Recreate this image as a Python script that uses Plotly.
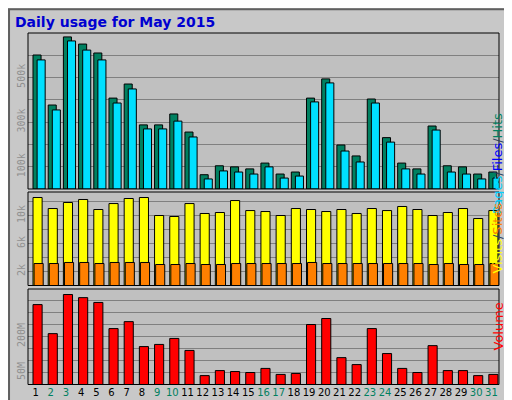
import plotly.graph_objects as go

days = list(range(1, 32))
hits = [600,376,681,649,609,407,470,287,287,336,255,64,104,99,90,116,67,76,407,493,197,148,403,230,116,90,282,104,99,67,76]
files = [578,354,663,622,578,385,448,269,269,304,233,45,81,76,67,99,49,58,390,475,170,121,385,210,90,67,264,76,67,45,49]
visits = [12.57,11.0,11.86,12.29,10.86,11.71,12.43,12.57,10.0,9.86,11.71,10.29,10.43,12.14,10.71,10.57,10.0,11.0,10.86,10.57,10.86,10.29,11.0,10.71,11.29,10.86,10.0,10.43,11.0,9.57,10.71]
sites = [3.14,3.14,3.29,3.29,3.14,3.29,3.29,3.29,3.0,3.0,3.14,3.0,3.0,3.14,3.14,3.14,3.14,3.14,3.29,3.14,3.14,3.14,3.14,3.14,3.14,3.14,3.0,3.14,3.0,3.0,3.14]
volume = [333,212,375,362,342,233,262,158,167,192,142,37,58,54,50,67,42,46,250,275,112,83,233,129,67,50,162,58,58,37,42]
weekend = {2,3,9,10,16,17,23,24,30,31}

fig = go.Figure()
ln = dict(color="black", width=1)
fig.add_bar(x=days, y=[h*1000 for h in hits], offset=-0.17, width=0.53, marker=dict(color="#008060", line=ln), yaxis="y")
fig.add_bar(x=days, y=[f*1000 for f in files], offset=0.1, width=0.53, marker=dict(color="#00E0FF", line=ln), yaxis="y")
fig.add_bar(x=days, y=[v*1000 for v in visits], offset=-0.17, width=0.6, marker=dict(color="#FFFF00", line=ln), yaxis="y2")
fig.add_bar(x=days, y=[s*1000 for s in sites], offset=-0.1, width=0.6, marker=dict(color="#FF8000", line=ln), yaxis="y2")
fig.add_bar(x=days, y=[v*1e6 for v in volume], offset=-0.17, width=0.6, marker=dict(color="#FF0000", line=ln), yaxis="y3")

tickfont = dict(family="DejaVu Sans Mono", size=10, color="#909090")
yc = dict(showgrid=True, gridcolor="#808080", gridwidth=1, tickangle=-90, tickfont=tickfont,
          zeroline=False, showline=False, ticks="", anchor="x", fixedrange=True, automargin=False)
fig.update_layout(
    width=512, height=400, margin=dict(l=0, r=0, t=0, b=0, autoexpand=False),
    paper_bgcolor="#C8C8C8", plot_bgcolor="#C0C0C0", barmode="overlay", showlegend=False,
    xaxis=dict(domain=[20/512, 491/512], range=[0.5, 31.5], tickvals=days,
               ticktext=[f'<span style="color:{"#008060" if d in weekend else "black"}">{d}</span>' for d in days],
               tickangle=0, tickfont=dict(family="DejaVu Sans", size=10), showgrid=False, zeroline=False,
               ticks="", anchor="y3", fixedrange=True, automargin=False),
    yaxis=dict(domain=[1-181/400, 1-25/400], range=[0, 698500],
               tickvals=[100000*i for i in range(1, 7)], ticktext=["100k", "", "300k", "", "500k", ""], **yc),
    yaxis2=dict(domain=[1-277.5/400, 1-184/400], range=[0, 13360],
                tickvals=[2000*i for i in range(1, 7)], ticktext=["2k", "", "6k", "", "10k", ""], **yc),
    yaxis3=dict(domain=[1-376.5/400, 1-281/400], range=[0, 398e6],
                tickvals=[50e6*i for i in range(1, 8)], ticktext=["50M", "", "", "200M", "", "", ""], **yc),
)
for yr in ["y", "y2", "y3"]:
    fig.add_shape(type="rect", xref="x domain", yref=f"{yr} domain", x0=0, x1=1, y0=0, y1=1,
                  line=dict(color="black", width=1), layer="above")
fig.add_shape(type="rect", xref="paper", yref="paper", x0=0.002, x1=0.998, y0=0.003, y1=0.997,
              line=dict(color="#606060", width=2))
fig.add_annotation(x=5/512, y=1-14/400, xref="paper", yref="paper", xanchor="left", yanchor="middle",
                   text="<b>Daily usage for May 2015</b>", showarrow=False,
                   font=dict(family="DejaVu Sans", size=14, color="#0000D0"))
af = dict(family="DejaVu Sans", size=13)
fig.add_annotation(x=499/512, y=1-103/400, xref="paper", yref="paper", textangle=-90, showarrow=False, font=af,
                   text='<span style="color:#00D0FF">Pages</span>/<span style="color:#0000FF">Files</span>/<span style="color:#008060">Hits</span>')
fig.add_annotation(x=499/512, y=1-230/400, xref="paper", yref="paper", textangle=-90, showarrow=False, font=af,
                   text='<span style="color:#FFFF00">Visits</span>/<span style="color:#FF8000">Sites</span>')
fig.add_annotation(x=499/512, y=1-345/400, xref="paper", yref="paper", textangle=-90, showarrow=False, font=af,
                   text='<span style="color:#FF0000">Volume</span>')
fig.write_html("out.html")
